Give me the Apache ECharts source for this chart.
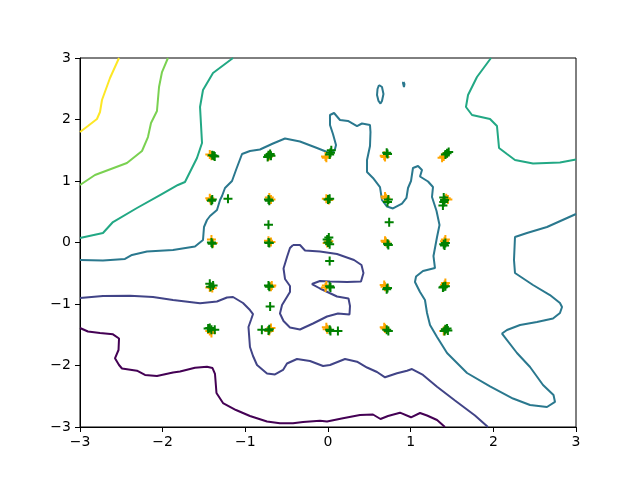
<!DOCTYPE html>
<html>
<head>
<meta charset="utf-8">
<script src="https://cdn.jsdelivr.net/npm/echarts@6/dist/echarts.min.js"></script>
<style>html,body{margin:0;padding:0;background:#fff}#c{width:640px;height:480px}</style>
</head>
<body>
<div id="c"></div>
<script>
// Axis ticks
const xTicks = [-3, -2, -1, 0, 1, 2, 3];
const yTicks = [-3, -2, -1, 0, 1, 2, 3];

// Contour level colours (viridis)
const levelColors = ['#440154', '#414487', '#2a788e', '#22a884', '#7ad151', '#fde725'];

// Contour lines (data coordinates)
const level0Line = [[-3,-1.390],[-2.904,-1.447],[-2.758,-1.472],[-2.601,-1.493],[-2.528,-1.561],[-2.534,-1.748],[-2.577,-1.883],[-2.528,-1.992],[-2.492,-2.049],[-2.311,-2.085],[-2.214,-2.154],[-2.069,-2.171],[-1.875,-2.114],[-1.790,-2.098],[-1.609,-2.036],[-1.464,-2.020],[-1.397,-2.041],[-1.367,-2.138],[-1.349,-2.447],[-1.270,-2.610],[-1.113,-2.724],[-0.944,-2.821],[-0.738,-2.911],[-0.581,-2.940],[-0.423,-2.940],[-0.302,-2.919],[-0.097,-2.898],[-0.012,-2.911],[0.181,-2.859],[0.387,-2.805],[0.544,-2.797],[0.635,-2.870],[0.726,-2.821],[0.871,-2.767],[1.004,-2.842],[1.113,-2.772],[1.198,-2.813],[1.319,-2.886],[1.415,-3]];

const level1Line = [[-3,-0.902],[-2.722,-0.870],[-2.395,-0.865],[-2.117,-0.886],[-1.875,-0.935],[-1.548,-0.989],[-1.343,-0.959],[-1.222,-0.894],[-1.149,-0.886],[-1.028,-0.984],[-0.944,-1.098],[-0.907,-1.163],[-0.932,-1.260],[-0.962,-1.374],[-0.944,-1.699],[-0.907,-1.846],[-0.859,-1.992],[-0.738,-2.130],[-0.641,-2.146],[-0.544,-2.073],[-0.496,-1.967],[-0.375,-1.894],[-0.218,-1.927],[-0.060,-2.008],[0.024,-1.992],[0.206,-1.894],[0.351,-1.938],[0.472,-2.033],[0.593,-2.106],[0.690,-2.192],[0.835,-2.127],[0.956,-2.085],[1.016,-2.057],[1.149,-2.154],[1.319,-2.345],[1.536,-2.569],[1.778,-2.813],[1.935,-3]];

const level1Loop = [[-0.423,-0.041],[-0.339,-0.041],[-0.278,-0.130],[-0.097,-0.146],[0.109,-0.187],[0.315,-0.285],[0.405,-0.366],[0.429,-0.496],[0.399,-0.634],[0.230,-0.642],[0.024,-0.634],[-0.097,-0.626],[-0.194,-0.675],[-0.097,-0.748],[0.109,-0.878],[0.248,-0.911],[0.266,-1.033],[0.260,-1.171],[0.121,-1.154],[-0.012,-1.203],[-0.181,-1.317],[-0.339,-1.415],[-0.460,-1.382],[-0.538,-1.276],[-0.581,-1.154],[-0.556,-1.016],[-0.460,-0.805],[-0.460,-0.707],[-0.520,-0.593],[-0.538,-0.423],[-0.496,-0.236],[-0.460,-0.089],[-0.423,-0.041]];

const level2Line = [[-3,-0.285],[-2.722,-0.293],[-2.456,-0.268],[-2.371,-0.203],[-2.190,-0.146],[-1.875,-0.122],[-1.609,-0.065],[-1.512,0.041],[-1.500,0.252],[-1.464,0.366],[-1.427,0.431],[-1.343,0.528],[-1.306,0.691],[-1.282,0.756],[-1.246,0.886],[-1.161,1.000],[-1.113,1.179],[-1.040,1.439],[-0.944,1.488],[-0.823,1.512],[-0.665,1.610],[-0.520,1.691],[-0.339,1.642],[-0.133,1.537],[-0.012,1.472],[0.048,1.455],[0.085,1.520],[0.097,1.585],[0.060,1.764],[0.024,1.911],[0.024,2.073],[0.073,2.106],[0.145,1.992],[0.242,1.976],[0.351,1.894],[0.411,1.935],[0.508,1.911],[0.514,1.797],[0.508,1.569],[0.472,1.341],[0.472,1.146],[0.544,1.049],[0.629,0.902],[0.653,0.691],[0.714,0.585],[0.786,0.553],[0.895,0.634],[0.949,0.724],[0.968,0.886],[1.004,1.000],[1.028,1.211],[1.089,1.244],[1.137,1.179],[1.113,1.073],[1.210,0.992],[1.270,0.902],[1.258,0.740],[1.313,0.512],[1.349,0.285],[1.319,0.089],[1.276,-0.220],[1.294,-0.415],[1.149,-0.463],[1.065,-0.553],[1.052,-0.642],[1.113,-0.805],[1.173,-0.935],[1.198,-1.146],[1.234,-1.341],[1.319,-1.537],[1.440,-1.797],[1.682,-2.122],[1.960,-2.341],[2.238,-2.537],[2.444,-2.642],[2.649,-2.675],[2.746,-2.593],[2.728,-2.480],[2.601,-2.317],[2.444,-2.024],[2.286,-1.797],[2.105,-1.480],[2.165,-1.423],[2.323,-1.341],[2.528,-1.293],[2.722,-1.236],[2.806,-1.146],[2.831,-1.049],[2.806,-0.984],[2.685,-0.854],[2.480,-0.691],[2.262,-0.496],[2.250,-0.285],[2.262,0.089],[2.407,0.154],[2.649,0.252],[3,0.463]];

const level2LoopA = [[0.617,2.561],[0.653,2.528],[0.671,2.415],[0.653,2.301],[0.635,2.260],[0.611,2.301],[0.593,2.398],[0.599,2.496],[0.617,2.561]];
const level2LoopB = [[0.913,2.610],[0.925,2.577],[0.919,2.528],[0.907,2.545],[0.907,2.593],[0.913,2.610]];

const level3LineLeft = [[-1.149,3],[-1.391,2.756],[-1.512,2.480],[-1.548,2.203],[-1.524,1.618],[-1.585,1.374],[-1.730,0.984],[-1.815,0.935],[-2.032,0.772],[-2.311,0.561],[-2.601,0.333],[-2.722,0.154],[-3,0.073]];
const level3LineRight = [[1.972,3],[1.802,2.691],[1.694,2.398],[1.669,2.203],[1.742,2.073],[1.960,2.008],[2.044,1.894],[2.069,1.537],[2.165,1.439],[2.262,1.341],[2.480,1.285],[2.806,1.301],[3,1.350]];

const level4Line = [[-1.936,3],[-2.008,2.772],[-2.044,2.528],[-2.069,2.138],[-2.141,1.943],[-2.178,1.715],[-2.250,1.488],[-2.432,1.293],[-2.819,1.098],[-3,0.935]];

const level5Line = [[-2.528,3],[-2.637,2.675],[-2.734,2.317],[-2.758,2.122],[-2.795,2.008],[-2.904,1.894],[-3,1.797]];

// Scatter points
const orangePoints = [
  [-1.43,1.43],[-1.41,1.41],[-0.72,1.40],[-0.70,1.42],[-0.02,1.38],[-0.03,1.40],[0.69,1.39],[0.68,1.41],[1.38,1.38],[1.40,1.40],
  [-1.43,0.72],[-1.42,0.69],[-0.71,0.73],[-0.69,0.70],[-0.02,0.71],[0.01,0.69],[0.69,0.75],[0.70,0.72],[1.43,0.72],[1.45,0.70],
  [-1.41,0.05],[-1.39,-0.01],[-0.69,0.01],[-0.72,0.03],[-0.01,-0.01],[0.01,0.02],[0.69,0.03],[0.70,0.01],[1.42,0.05],[1.41,0.02],
  [-1.43,-0.73],[-1.40,-0.74],[-0.68,-0.70],[-0.69,-0.72],[-0.03,-0.73],[-0.02,-0.70],[0.68,-0.69],[0.69,-0.72],[1.42,-0.66],[1.41,-0.69],
  [-1.41,-1.47],[-1.43,-1.44],[-0.69,-1.39],[-0.71,-1.44],[-0.02,-1.38],[-0.01,-1.41],[0.68,-1.38],[0.69,-1.40],[1.40,-1.44],[1.42,-1.42]
];
const greenPoints = [
  [-1.38,1.41],[-1.40,1.42],[-1.37,1.40],[-0.72,1.42],[-0.70,1.44],[-0.69,1.41],[-0.73,1.39],[0.02,1.43],[0.03,1.46],[0.04,1.50],[0.72,1.44],[0.71,1.46],[1.44,1.45],[1.46,1.47],[1.42,1.43],
  [-1.40,0.70],[-1.41,0.68],[-1.21,0.71],[-0.72,0.70],[-0.71,0.68],[-0.72,0.29],[0.02,0.71],[0.00,0.70],[0.73,0.70],[0.72,0.66],[0.74,0.33],[1.40,0.73],[1.41,0.69],[1.40,0.66],[1.39,0.60],
  [-1.41,0.00],[-1.40,-0.02],[-0.71,-0.01],[-0.72,0.00],[0.00,0.00],[-0.01,0.05],[0.01,0.08],[0.02,-0.03],[0.02,-0.30],[0.72,-0.02],[0.73,-0.04],[1.40,-0.03],[1.41,-0.05],[1.42,-0.01],
  [-1.43,-0.67],[-1.42,-0.72],[-1.39,-0.70],[-0.72,-0.70],[-0.71,-0.72],[-0.70,-1.04],[0.02,-0.71],[0.03,-0.73],[0.72,-0.74],[0.71,-0.76],[1.40,-0.72],[1.39,-0.73],[1.42,-0.71],
  [-1.43,-1.39],[-1.41,-1.42],[-1.37,-1.42],[-1.45,-1.40],[-0.71,-1.41],[-0.72,-1.43],[-0.80,-1.42],[0.02,-1.42],[0.03,-1.44],[0.12,-1.44],[0.71,-1.42],[0.73,-1.44],[1.42,-1.41],[1.44,-1.40],[1.45,-1.43],[1.41,-1.44]
];

const plusPath = 'path://M3.5,0H5.5V3.5H9V5.5H5.5V9H3.5V5.5H0V3.5H3.5Z';

function lineSeries(data, color) {
  return {
    type: 'line', data: data, symbol: 'none', showSymbol: false,
    lineStyle: { color: color, width: 2, opacity: 1 }, itemStyle: { color: color },
    silent: true, z: 2
  };
}

const fmt = v => String(v).replace('-', '\u2212');

const chart = echarts.init(document.getElementById('c'), null, { renderer: 'canvas' });
chart.setOption({
  animation: false,
  backgroundColor: '#ffffff',
  grid: { left: 80, right: 64, top: 58, bottom: 53, show: true, borderColor: '#000', borderWidth: 1, backgroundColor: 'transparent' },
  xAxis: {
    type: 'value', min: xTicks[0], max: xTicks[xTicks.length - 1], interval: 1,
    axisLine: { show: true, onZero: false, lineStyle: { color: '#000', width: 1 } },
    axisTick: { show: true, inside: false, length: 5, lineStyle: { color: '#000', width: 1 } },
    axisLabel: { show: true, margin: 8, color: '#000', fontSize: 14, fontFamily: 'DejaVu Sans', formatter: fmt },
    splitLine: { show: false }
  },
  yAxis: {
    type: 'value', min: yTicks[0], max: yTicks[yTicks.length - 1], interval: 1,
    axisLine: { show: true, onZero: false, lineStyle: { color: '#000', width: 1 } },
    axisTick: { show: true, inside: false, length: 5, lineStyle: { color: '#000', width: 1 } },
    axisLabel: { show: true, margin: 9, color: '#000', fontSize: 14, fontFamily: 'DejaVu Sans', formatter: fmt },
    splitLine: { show: false }
  },
  series: [
    lineSeries(level0Line, levelColors[0]),
    lineSeries(level1Line, levelColors[1]),
    lineSeries(level1Loop, levelColors[1]),
    lineSeries(level2Line, levelColors[2]),
    lineSeries(level2LoopA, levelColors[2]),
    lineSeries(level2LoopB, levelColors[2]),
    lineSeries(level3LineLeft, levelColors[3]),
    lineSeries(level3LineRight, levelColors[3]),
    lineSeries(level4Line, levelColors[4]),
    lineSeries(level5Line, levelColors[5]),
    { type: 'scatter', data: orangePoints, symbol: plusPath, symbolSize: 9, itemStyle: { color: '#ffa500', opacity: 1 }, z: 3, silent: true },
    { type: 'scatter', data: greenPoints, symbol: plusPath, symbolSize: 9, itemStyle: { color: '#008000', opacity: 1 }, z: 4, silent: true }
  ]
});
</script>
</body>
</html>
